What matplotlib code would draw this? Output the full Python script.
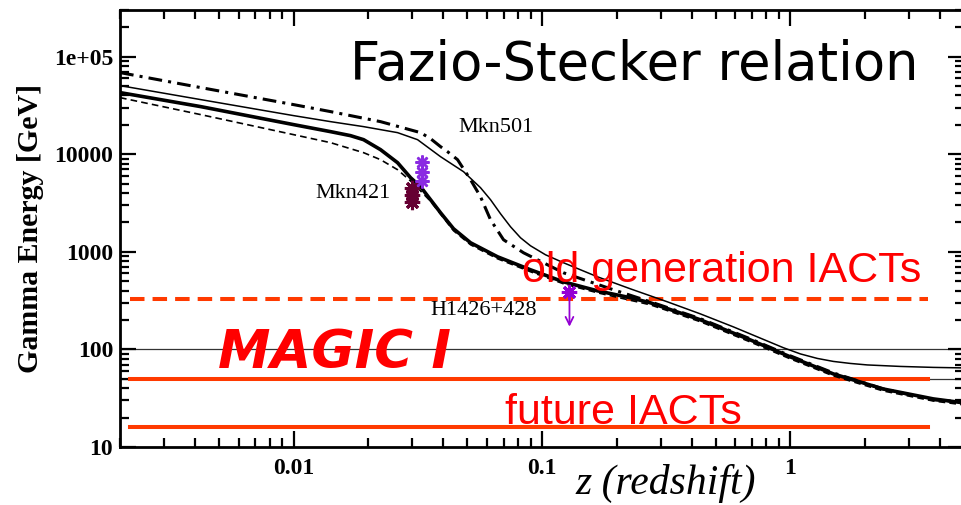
import numpy as np
import matplotlib
matplotlib.use("Agg")
import matplotlib.pyplot as plt
from matplotlib.ticker import FixedLocator, LogLocator, NullFormatter

# Gamma-ray horizon (energy [GeV] vs redshift) for the four EBL models
z_thick = [0.002, 0.00423, 0.01, 0.01409, 0.01695, 0.01913, 0.02239, 0.02621,
           0.02957, 0.03244, 0.03559, 0.03904, 0.04405, 0.05156, 0.06622,
           0.0899, 0.1221, 0.1673, 0.2271, 0.2733, 0.4343, 0.6902, 1.0,
           1.489, 2.366, 3.763, 5.0]
E_thick = [42750, 30700, 20080, 17010, 15480, 14080, 11120, 8180, 5740, 4642,
           3415, 2512, 1721, 1237, 889, 654, 492, 398, 338, 300, 201, 125,
           83.8, 56.1, 39.3, 31.1, 28.3]

z_thin = [0.002, 0.00423, 0.01, 0.01409, 0.01913, 0.02621, 0.03155, 0.03904,
          0.04832, 0.05655, 0.06206, 0.06808, 0.07468, 0.08194, 0.0899,
          0.1033, 0.1221, 0.1673, 0.2271, 0.3199, 0.4343, 0.5898, 0.9372,
          1.097, 1.284, 1.489, 1.743, 2.041, 2.772, 3.763, 5.0]
E_thin = [50420, 36220, 24830, 21540, 19150, 16620, 14080, 9428, 6614, 4534,
          3415, 2453, 1805, 1392, 1152, 932, 772, 554, 417, 307, 231, 170,
          104, 89.9, 80.8, 75.3, 71.8, 69.3, 66.9, 65.4, 64.6]

z_dashdot = [0.002, 0.00423, 0.01, 0.01409, 0.02239, 0.03244, 0.03559,
             0.03904, 0.04166, 0.04571, 0.05156, 0.05655, 0.06206, 0.07,
             0.08425, 0.1221, 0.194, 0.2733, 0.4343, 0.6902, 1.0, 1.489,
             2.366, 3.763, 5.0]
E_dashdot = [68520, 48100, 32190, 27290, 21540, 16620, 14420, 11940, 10610,
             8782, 5476, 3665, 2129, 1328, 977, 609, 408, 307, 206, 128,
             85.8, 57.4, 39.3, 30.4, 28.9]

z_dashed = [0.002, 0.00423, 0.01, 0.01409, 0.01913, 0.02239, 0.02621, 0.03012,
            0.03559, 0.04405, 0.05156, 0.06622, 0.0899, 0.1221, 0.1673,
            0.2733, 0.4343, 0.6902, 1.0, 1.489, 2.366, 3.763, 5.0]
E_dashed = [37970, 25420, 15850, 13120, 10360, 8782, 6934, 5103, 3295, 1642,
            1180, 848, 624, 470, 380, 286, 192, 119, 79.9, 53.5, 37.5, 29.6,
            27.0]

# Observed sources
mkn421_z = [0.030, 0.030, 0.030]
mkn421_E = [4530, 3850, 3260]
mkn501_z = [0.033, 0.033, 0.033]
mkn501_E = [8380, 6620, 5350]
h1426_z = 0.129
h1426_E = 390
h1426_limit_E = 160

# Instrument energy thresholds [GeV]
threshold_old = 330
threshold_magic = 50
threshold_future = 16
reference_levels = [100, 50]

y_ticks = [10, 100, 1000, 10000, 100000]
y_ticklabels = ["10", "100", "1000", "10000", "1e+05"]
x_ticks = [0.01, 0.1, 1]
x_ticklabels = ["0.01", "0.1", "1"]

W, H = 962, 505
fig = plt.figure(figsize=(W / 100, H / 100), dpi=100)


def fx(px):
    return px / W


def fy(py):
    return 1 - py / H


ax = fig.add_axes([fx(120), fy(447), (964 - 120) / W, (447 - 10) / H])
ax.set_xscale("log")
ax.set_yscale("log")
ax.set_xlim(0.002, 5)
ax.set_ylim(10, 3e5)

red_line = "#ff3a00"
red_text = "#ff0000"

# Reference horizontal levels
for lvl in reference_levels:
    ax.axhline(lvl, color="#333333", lw=0.9, zorder=1)

# Threshold lines
ax.axhline(threshold_old, xmin=0.012, xmax=0.957, color=red_line, lw=2.9,
           dashes=(3.6, 2.0), zorder=2)
ax.axhline(threshold_magic, xmin=0.012, xmax=0.957, color=red_line, lw=2.9,
           zorder=2)
ax.axhline(threshold_future, xmin=0.012, xmax=0.957, color=red_line, lw=2.9,
           zorder=2)

# Model curves
ax.plot(z_dashed, E_dashed, color="black", lw=1.2, dashes=(4, 2.5), zorder=3)
ax.plot(z_thin, E_thin, color="black", lw=1.1, zorder=3)
ax.plot(z_dashdot, E_dashdot, color="black", lw=2.2, dashes=(4.5, 2, 1, 2),
        zorder=3)
ax.plot(z_thick, E_thick, color="black", lw=2.6, zorder=3)

# Sources
ax.plot(mkn421_z, mkn421_E, ls="none", marker=(8, 2, 0), ms=11, mew=2.2,
        color="#660033", zorder=4)
ax.plot(mkn501_z, mkn501_E, ls="none", marker=(8, 2, 0), ms=10, mew=1.8,
        color="#8a2be2", zorder=4)
ax.plot([h1426_z], [h1426_E], ls="none", marker=(8, 2, 0), ms=11, mew=2.2,
        color="#9400d3", zorder=4)
ax.annotate("", xy=(h1426_z, h1426_limit_E), xytext=(h1426_z, h1426_E),
            arrowprops=dict(arrowstyle="->", color="#9400d3", lw=1.3,
                            mutation_scale=14), zorder=4)

serif = "Liberation Serif"
ax.text(0.0461, 17000, "Mkn501", fontsize=16, family=serif, zorder=5)
ax.text(0.01226, 3580, "Mkn421", fontsize=16, family=serif, zorder=5)
ax.text(0.0356, 226, "H1426+428", fontsize=16, family=serif, zorder=5)

# Axes styling
for sp in ax.spines.values():
    sp.set_linewidth(2.0)
ax.yaxis.set_major_locator(FixedLocator(y_ticks))
ax.set_yticklabels(y_ticklabels)
ax.xaxis.set_major_locator(FixedLocator(x_ticks))
ax.set_xticklabels(x_ticklabels)
ax.xaxis.set_minor_locator(LogLocator(base=10, subs=np.arange(2, 10), numticks=20))
ax.yaxis.set_minor_locator(LogLocator(base=10, subs=np.arange(2, 10), numticks=20))
ax.xaxis.set_minor_formatter(NullFormatter())
ax.yaxis.set_minor_formatter(NullFormatter())
ax.tick_params(which="both", direction="in", top=True, right=True, width=1.6)
ax.tick_params(which="major", length=11.5)
ax.tick_params(which="minor", length=6.5)
ax.tick_params(axis="y", pad=5)
ax.tick_params(axis="x", pad=8)
for lab in ax.get_xticklabels() + ax.get_yticklabels():
    lab.set_family(serif)
    lab.set_fontweight("bold")
    lab.set_fontsize(17)

# Annotations in figure coordinates
fig.text(fx(31), fy(228), "Gamma Energy [GeV]", rotation=90, ha="center",
         va="center", family=serif, fontweight="bold", fontsize=21.5)
fig.text(fx(575), fy(494), "z (redshift)", family=serif, style="italic",
         fontsize=30, va="baseline")
fig.text(fx(350), fy(80), "Fazio-Stecker relation", family="DejaVu Sans",
         fontsize=38, va="baseline")
fig.text(fx(522), fy(282), "old generation IACTs", family="Liberation Sans",
         fontsize=31, color=red_text, va="baseline")
fig.text(fx(505), fy(424), "future IACTs", family="Liberation Sans",
         fontsize=31, color=red_text, va="baseline")
fig.text(fx(218), fy(368), "MAGIC I", family="DejaVu Sans", fontweight="bold",
         style="italic", fontsize=38, color=red_text, va="baseline")

fig.savefig("out.png", dpi=100)
